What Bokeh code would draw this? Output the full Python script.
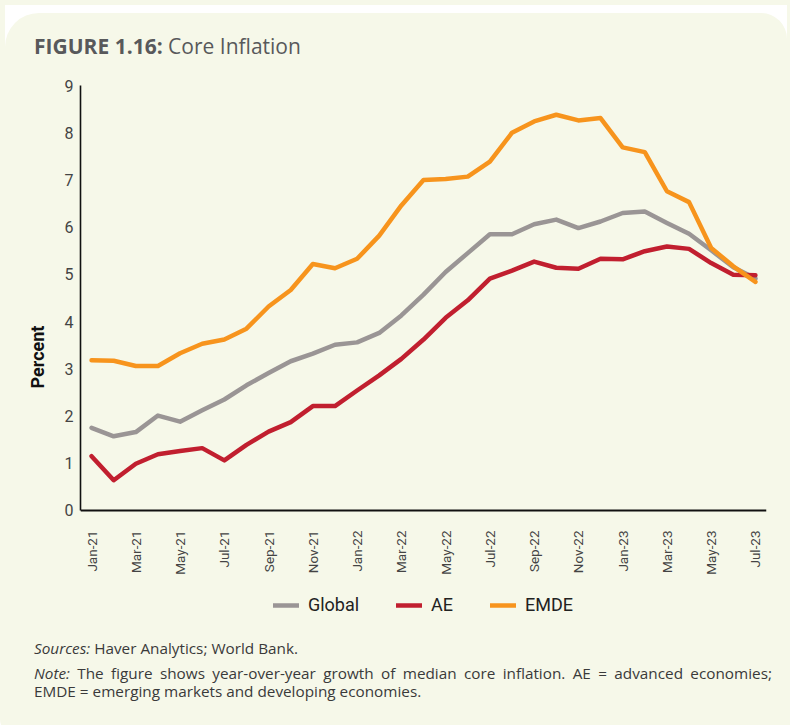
import math
from bokeh.plotting import figure
from bokeh.models import FixedTicker, Legend, LegendItem, Div
from bokeh.layouts import column
from bokeh.embed import file_html
from bokeh.resources import INLINE

months = ["Jan-21", "Feb-21", "Mar-21", "Apr-21", "May-21", "Jun-21", "Jul-21", "Aug-21",
          "Sep-21", "Oct-21", "Nov-21", "Dec-21",
          "Jan-22", "Feb-22", "Mar-22", "Apr-22", "May-22", "Jun-22", "Jul-22", "Aug-22",
          "Sep-22", "Oct-22", "Nov-22", "Dec-22",
          "Jan-23", "Feb-23", "Mar-23", "Apr-23", "May-23", "Jun-23", "Jul-23"]

global_vals = [1.75, 1.57, 1.66, 2.01, 1.88, 2.12, 2.35, 2.65, 2.91, 3.16, 3.32, 3.51,
               3.56, 3.76, 4.13, 4.57, 5.05, 5.45, 5.85, 5.85, 6.06, 6.16, 5.98, 6.12,
               6.30, 6.33, 6.09, 5.86, 5.51, 5.15, 4.91]
ae_vals = [1.15, 0.64, 0.99, 1.19, 1.26, 1.32, 1.06, 1.39, 1.67, 1.87, 2.21, 2.21,
           2.54, 2.86, 3.21, 3.62, 4.08, 4.45, 4.91, 5.08, 5.27, 5.14, 5.12, 5.33,
           5.32, 5.49, 5.59, 5.54, 5.24, 4.99, 4.98]
emde_vals = [3.18, 3.17, 3.06, 3.06, 3.33, 3.53, 3.62, 3.85, 4.32, 4.67, 5.22, 5.13,
             5.33, 5.82, 6.46, 7.00, 7.02, 7.07, 7.39, 8.00, 8.24, 8.38, 8.26, 8.31,
             7.69, 7.59, 6.76, 6.53, 5.56, 5.17, 4.84]

y_ticks = [0, 1, 2, 3, 4, 5, 6, 7, 8, 9]
x_tick_idx = list(range(0, len(months), 2))
series_names = ["Global", "AE", "EMDE"]
series_colors = ["#9a9595", "#c11f2f", "#f7941d"]

title_bold = "FIGURE 1.16:"
title_rest = "Core Inflation"
sources_text = "Haver Analytics; World Bank."
note_line1 = "The figure shows year-over-year growth of median core inflation. AE = advanced economies;"
note_line2 = "EMDE = emerging markets and developing economies."

x = list(range(len(months)))

PANEL = "#f6f8e9"
W = 782

# ---- title ----
title_div = Div(
    text=(f'<div style="margin-top:8px; width:{W}px; height:58px; box-sizing:border-box; '
          f'background-color:{PANEL}; border-top-left-radius:34px; border-top-right-radius:26px; '
          f'padding:21px 0 0 29px; font-family:\'Open Sans\'; font-size:21px; '
          f'line-height:24px; color:#58595b; white-space:nowrap;">'
          f'<b>{title_bold}</b> {title_rest}</div>'),
    width=W, height=65, styles={"background-color": "#ffffff"})

# ---- chart ----
# frame spans y from -2.5 to 9 so that the x-axis labels and the legend sit inside it;
# the y axis is bounded to 0..9 and the x axis is pinned at y = 0
p = figure(width=W, height=555, output_backend="svg", toolbar_location=None,
           x_range=(-0.5, 30.5), y_range=(-2.5, 9),
           min_border_left=80, min_border_right=16, min_border_top=10, min_border_bottom=2,
           border_fill_color=PANEL, background_fill_color=PANEL)
p.outline_line_color = None
p.xgrid.visible = False
p.ygrid.visible = False

CF = "Roboto"

yax = p.yaxis[0]
yax.ticker = FixedTicker(ticks=y_ticks)
yax.bounds = (0, 9)
yax.axis_line_color = "#111111"
yax.axis_line_width = 1.6
yax.major_tick_line_color = None
yax.minor_tick_line_color = None
yax.major_tick_out = 0
yax.major_tick_in = 0
yax.minor_tick_out = 0
yax.major_label_text_font = CF
yax.major_label_text_font_size = "16px"
yax.major_label_text_color = "#444444"
yax.major_label_standoff = 7
yax.axis_label = "Percent"
yax.axis_label_text_font = CF
yax.axis_label_text_font_style = "bold"
yax.axis_label_text_font_size = "18px"
yax.axis_label_text_color = "#111111"
yax.axis_label_standoff = 14

xax = p.xaxis[0]
xax.fixed_location = 0
xax.ticker = FixedTicker(ticks=x_tick_idx)
xax.major_label_overrides = {i: months[i] for i in x_tick_idx}
xax.major_label_orientation = math.pi / 2
xax.axis_line_color = "#111111"
xax.axis_line_width = 1.8
xax.major_tick_line_color = None
xax.minor_tick_line_color = None
xax.major_tick_out = 0
xax.major_tick_in = 0
xax.minor_tick_out = 0
xax.major_label_text_font = CF
xax.major_label_text_font_size = "13.5px"
xax.major_label_text_color = "#444444"
xax.major_label_standoff = 20

renderers = []
for vals, c in zip([global_vals, ae_vals, emde_vals], series_colors):
    r = p.line(x, vals, line_color=c, line_width=4.5, line_join="round", line_cap="round")
    renderers.append(r)

legend = Legend(items=[LegendItem(label=n, renderers=[r]) for n, r in zip(series_names, renderers)],
                orientation="horizontal", location="bottom_center",
                label_text_font=CF, label_text_font_size="18px", label_text_color="#222222",
                glyph_width=26, glyph_height=20, label_standoff=9, spacing=37,
                padding=5, margin=13,
                background_fill_alpha=0, border_line_color=None)
p.add_layout(legend)

# ---- notes ----
notes_div = Div(
    text=(f'<div style="padding:4px 0 0 29px; font-family:\'Open Sans\'; font-size:15.3px; '
          f'color:#3a3a3a; line-height:18px;">'
          f'<div style="margin-bottom:7px;"><i>Sources:</i> {sources_text}</div>'
          f'<div style="width:738px; text-align:justify; text-align-last:justify;">'
          f'<i>Note:</i> {note_line1}</div>'
          f'<div>{note_line2}</div></div>'),
    width=W, height=97,
    styles={"background-color": PANEL, "border-bottom-left-radius": "18px"})

layout = column(title_div, p, notes_div, spacing=0,
                styles={"background-color": PANEL, "border-bottom-left-radius": "18px"})

open("out.html", "w").write(file_html(layout, INLINE))
